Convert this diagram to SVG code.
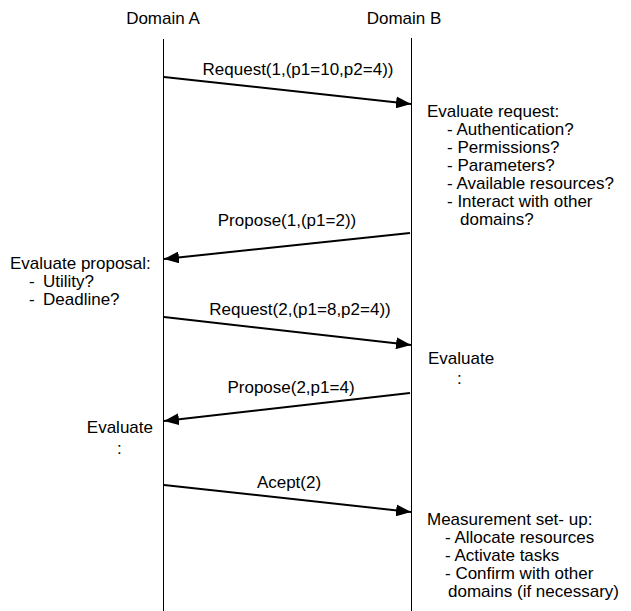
<svg xmlns="http://www.w3.org/2000/svg" width="631" height="611" viewBox="0 0 631 611">
<style>
text{font-family:"Liberation Sans",Arial,sans-serif;font-size:17px;fill:#000}
.life{stroke:#000;stroke-width:1;fill:none}
.msg{stroke:#000;stroke-width:2;fill:none;marker-end:url(#ah)}
</style>
<defs>
<marker id="ah" markerUnits="userSpaceOnUse" markerWidth="16" markerHeight="12" refX="15" refY="6" orient="auto">
<path d="M0,0 L15,6 L0,12 Z" fill="#000"/>
</marker>
</defs>
<rect width="631" height="611" fill="#fff"/>
<g id="domainA">
<text x="163" y="24" text-anchor="middle">Domain A</text>
<line class="life" x1="163.5" y1="39" x2="163.5" y2="611"/>
</g>
<g id="domainB">
<text x="404" y="24" text-anchor="middle">Domain B</text>
<line class="life" x1="411.5" y1="38" x2="411.5" y2="611"/>
</g>
<g id="connectors">
<line class="msg" x1="164" y1="77" x2="411" y2="104"/>
<line class="msg" x1="410" y1="233" x2="164" y2="259"/>
<line class="msg" x1="164" y1="317" x2="411" y2="345"/>
<line class="msg" x1="410" y1="393" x2="164" y2="421"/>
<line class="msg" x1="164" y1="485" x2="411" y2="512"/>
</g>
<g id="labels">
<text x="298" y="75" text-anchor="middle">Request(1,(p1=10,p2=4))</text>
<text x="287" y="226" text-anchor="middle">Propose(1,(p1=2))</text>
<text x="300" y="315" text-anchor="middle">Request(2,(p1=8,p2=4))</text>
<text x="291" y="393" text-anchor="middle">Propose(2,p1=4)</text>
<text x="289" y="488" text-anchor="middle">Acept(2)</text>
</g>
<g id="evalRequest">
<text x="427" y="117">Evaluate request:</text>
<text x="447" y="135">- Authentication?</text>
<text x="447" y="153">- Permissions?</text>
<text x="447" y="171">- Parameters?</text>
<text x="447" y="189">- Available resources?</text>
<text x="447" y="207">- Interact with other</text>
<text x="460" y="225">domains?</text>
</g>
<g id="evalProposal">
<text x="10" y="269">Evaluate proposal:</text>
<text x="29" y="287">-<tspan x="43">Utility?</tspan></text>
<text x="29" y="305">-<tspan x="43">Deadline?</tspan></text>
</g>
<g id="evalB">
<text x="428" y="364">Evaluate</text>
<text x="457" y="384">:</text>
</g>
<g id="evalA">
<text x="153" y="433" text-anchor="end">Evaluate</text>
<text x="117" y="454">:</text>
</g>
<g id="setup">
<text x="427" y="525">Measurement set- up:</text>
<text x="445" y="543">- Allocate resources</text>
<text x="445" y="561">- Activate tasks</text>
<text x="445" y="579">- Confirm with other</text>
<text x="448" y="597">domains (if necessary)</text>
</g>
</svg>
